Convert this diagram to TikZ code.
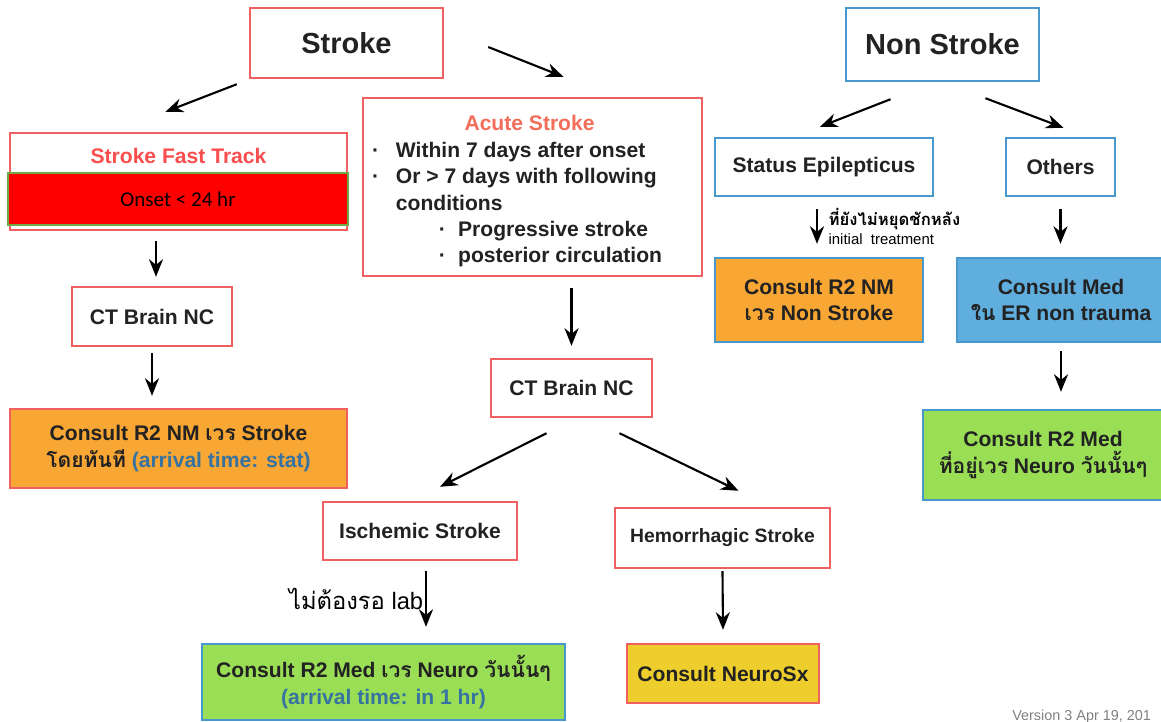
\documentclass[tikz,border=0pt]{standalone}
\usepackage{fontspec}
\setmainfont{Liberation Sans}
\newfontfamily\thai[Script=Thai]{Loma}
\newfontfamily\calib{Carlito}
\usepackage{xcolor}
\usepackage{tikz}
\usetikzlibrary{arrows.meta,positioning,calc}
\definecolor{strokered}{RGB}{240, 96, 96}
\definecolor{titlered}{RGB}{250, 78, 78}
\definecolor{acutesalmon}{RGB}{242, 110, 90}
\definecolor{nsblue}{RGB}{72, 152, 205}
\definecolor{orangefill}{RGB}{248, 166, 52}
\definecolor{bluefill}{RGB}{96, 174, 222}
\definecolor{greenfill}{RGB}{154, 222, 86}
\definecolor{yellowfill}{RGB}{238, 206, 44}
\definecolor{arrivalblue}{RGB}{55, 115, 160}
\definecolor{onsetgreen}{RGB}{110, 170, 70}
\definecolor{textdark}{RGB}{34, 34, 34}
\tikzset{
    redbox/.style={draw=strokered, line width=1.4pt, fill=white, inner sep=4pt,
        align=center, text=textdark, font=\bfseries\fontsize{12}{15}\selectfont},
    bluebox/.style={redbox, draw=nsblue},
    headbox/.style={font=\bfseries\fontsize{16.5}{20}\selectfont},
    flow/.style={-{Stealth[length=10pt,width=8pt]}, line width=1.2pt, black},
}

\begin{document}
\begin{tikzpicture}[x=0.02cm, y=-0.02cm]
    \useasboundingbox (0,0) rectangle (1161,721);
    % top level
    \node[redbox, headbox, minimum width=3.86cm, minimum height=1.4cm] (stroke) at (346.5,43) {Stroke};
    \node[bluebox, headbox, minimum width=3.86cm, minimum height=1.46cm] (nonstroke) at (942.5,44.5) {Non Stroke};
    % stroke fast track
    \node[redbox, minimum width=6.74cm, minimum height=1.94cm] (fasttrack) at (178.5,181.5) {};
    \node[text=titlered, font=\bfseries\fontsize{12}{15}\selectfont] (fttitle) at ($(fasttrack.north)+(0,24)$) {Stroke Fast Track};
    \node[draw=onsetgreen, line width=1.3pt, fill=red, minimum width=6.8cm, minimum height=1.04cm,
        font=\calib\fontsize{12}{14}\selectfont] (onset) at (178,199) {Onset < 24 hr};
    \node[redbox, minimum width=3.2cm, minimum height=1.18cm] (ctleft) at (152,316.5) {CT Brain NC};
    \node[redbox, fill=orangefill, minimum width=6.74cm, minimum height=1.58cm] (consultstroke) at (178.5,448.5)
        {Consult R2 NM {\thai เวร} Stroke\\{\thai โดยทันที} {\color{arrivalblue}(arrival time: stat)}};
    % acute stroke
    \node[redbox, inner sep=0pt, minimum width=6.78cm, minimum height=3.56cm] (acute) at (532.5,187) {
        \begin{minipage}{6.3cm}
        \vspace*{5pt}
        \centering
        {\color{acutesalmon}Acute Stroke}\par
        \raggedright
        \makebox[13.6pt][l]{\textperiodcentered}Within 7 days after onset\\
        \makebox[13.6pt][l]{\textperiodcentered}Or > 7 days with following\\
        \hspace*{13.6pt}conditions\\
        \hspace*{38pt}\makebox[11pt][l]{\textperiodcentered}Progressive stroke\\
        \hspace*{38pt}\makebox[11pt][l]{\textperiodcentered}posterior circulation
        \end{minipage}
    };
    \node[redbox, minimum width=3.22cm, minimum height=1.16cm] (ctmid) at (571.5,388) {CT Brain NC};
    \node[redbox, minimum width=3.88cm, minimum height=1.16cm] (ischemic) at (420,531) {Ischemic Stroke};
    \node[redbox, font=\bfseries\fontsize{11}{14}\selectfont, minimum width=4.3cm, minimum height=1.2cm] (hemorrhagic) at (722.5,538) {Hemorrhagic Stroke};
    \node[bluebox, fill=greenfill, minimum width=7.26cm, minimum height=1.52cm] (consultneuro) at (383.5,682)
        {Consult R2 Med {\thai เวร} Neuro {\thai วันนั้นๆ}\\{\color{arrivalblue}(arrival time: in 1 hr)}};
    \node[redbox, fill=yellowfill, minimum width=3.84cm, minimum height=1.18cm] (neurosx) at (723,673.5) {Consult NeuroSx};
    % non stroke
    \node[bluebox, minimum width=4.36cm, minimum height=1.16cm] (status) at (824,167) {Status Epilepticus};
    \node[bluebox, minimum width=2.18cm, minimum height=1.16cm] (others) at (1060.5,167) {Others};
    \node[bluebox, fill=orangefill, minimum width=4.16cm, minimum height=1.68cm] (consultnm) at (819,300)
        {Consult R2 NM\\{\thai เวร} Non Stroke};
    \node[bluebox, fill=bluefill, minimum width=4.16cm, minimum height=1.68cm] (consultmed) at (1061,300)
        {Consult Med\\{\thai ใน} ER non trauma};
    \node[bluebox, fill=greenfill, minimum width=4.8cm, minimum height=1.8cm] (consultward) at (1043,455)
        {Consult R2 Med\\{\thai ที่อยู่เวร} Neuro {\thai วันนั้นๆ}};
    \node[anchor=base west, inner sep=0pt, text=gray, font=\fontsize{8.2}{10}\selectfont] (version) at (1012,720) {Version 3 Apr 19, 201};

    % arrows
    \draw[flow] ($(stroke.south west)+(-12,5)$) -- ($(fasttrack.north)+(-13,-20)$);
    \draw[flow] ($(stroke.east)+(44,4)$) -- ($(acute.north)+(31,-20)$);
    \draw[flow] ($(nonstroke.south)+(-52,17)$) -- ($(status.north)+(-4,-10)$);
    \draw[flow] ($(nonstroke.south)+(43,16)$) -- ($(others.north)+(3,-9)$);
    \draw[flow] ($(ctleft.north |- fasttrack.south)+(4,10)$) -- ($(ctleft.north)+(4,-9)$);
    \draw[flow] ($(ctleft.south)+(0,6)$) -- ($(consultstroke.north -| ctleft.south)+(0,-12)$);
    \draw[flow] ($(acute.south -| ctmid.north)+(0,11)$) -- ($(ctmid.north)+(0,-12)$);
    \draw[flow] ($(ctmid.south)+(-25,15)$) -- ($(ischemic.north)+(20,-14)$);
    \draw[flow] ($(ctmid.south)+(48,15)$) -- ($(hemorrhagic.north)+(16,-16)$);
    \draw[flow] ($(ischemic.south)+(6,10)$) -- node[left, font=\fontsize{13.5}{15}\selectfont, inner sep=1pt] (nolab) {{\thai ไม่ต้องรอ} lab} ($(consultneuro.north -| ischemic.south)+(6,-16)$);
    \draw[flow] ($(hemorrhagic.south)+(0,2)$) -- ($(neurosx.north)+(0,-13)$);
    \draw[flow] ($(consultnm.north |- status.south)+(-2,12)$) -- node[right, align=left, inner sep=1pt, xshift=5pt] (sznote)
        {{\thai\bfseries\fontsize{9.5}{10}\selectfont ที่ยังไม่หยุดชักหลัง}\\[-1pt]{\fontsize{8.5}{9}\selectfont initial\ \ treatment}} ($(consultnm.north)+(-2,-13)$);
    \draw[flow] ($(others.south)+(0,12)$) -- ($(consultmed.north -| others.south)+(0,-13)$);
    \draw[flow] ($(consultmed.south)+(0,8)$) -- ($(consultward.north -| consultmed.south)+(0,-17)$);
\end{tikzpicture}
\end{document}
